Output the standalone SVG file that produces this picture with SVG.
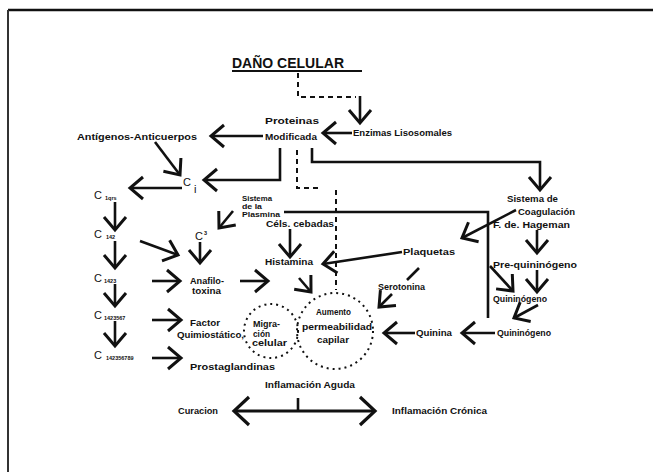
<svg xmlns="http://www.w3.org/2000/svg" width="653" height="472" viewBox="0 0 653 472">
  <style>
    .t { font-family: "Liberation Sans", "DejaVu Sans", sans-serif; font-weight: bold; font-size: 8.5px; fill: #111; }
    .s { font-size: 6.6px; }
    .c { font-family: "Liberation Sans", "DejaVu Sans", sans-serif; font-size: 11px; fill: #111; }
    .sub { font-family: "Liberation Sans", "DejaVu Sans", sans-serif; font-size: 5.5px; font-weight: bold; fill: #111; }
    .ttl { font-family: "Liberation Sans", "DejaVu Sans", sans-serif; font-weight: bold; font-size: 14px; fill: #111; }
    .ln { fill: none; stroke: #111; stroke-width: 2.6; }
    .ar { fill: none; stroke: #111; stroke-width: 2.6; marker-end: url(#chev); }
    .dash { fill: none; stroke: #111; stroke-width: 2; stroke-dasharray: 5 4; }
    .dot { fill: none; stroke: #111; stroke-width: 2; stroke-dasharray: 2 4; }
  </style>
  <defs>
    <marker id="chev" markerUnits="userSpaceOnUse" markerWidth="40" markerHeight="40" refX="0" refY="0" orient="auto" overflow="visible">
      <path d="M-13,-11 L0,0 L-13,11" fill="none" stroke="#111" stroke-width="3"/>
    </marker>
    <marker id="chevL" markerUnits="userSpaceOnUse" markerWidth="40" markerHeight="40" refX="0" refY="0" orient="auto-start-reverse" overflow="visible">
      <path d="M-15,-14 L0,0 L-15,14" fill="none" stroke="#111" stroke-width="3.2"/>
    </marker>
  </defs>

  <rect width="653" height="472" fill="#fff"/>

  <!-- page frame -->
  <g id="frame">
    <path d="M8,10 H653" fill="none" stroke="#111" stroke-width="2.5"/>
    <path d="M8,10 V472" fill="none" stroke="#333" stroke-width="2"/>
  </g>

  <!-- connectors -->
  <g id="connectors">
    <path class="dash" d="M298,73 V97 H356"/>
    <path class="ar" d="M360,96 V123"/>
    <path class="ar" d="M352,133 H323"/>
    <path class="ar" d="M263,136 H211"/>
    <path class="ar" d="M155,142 L180,175"/>
    <path class="ar" d="M280,148 V180 H204"/>
    <path class="ar" d="M182,188 H130"/>
    <path class="dash" d="M297,150 V188 H318"/>
    <path class="dash" d="M336,190 V290"/>
    <path class="ar" d="M312,148 V162 H540 V190"/>
    <path class="ln" d="M284,212 H488 V318"/>
    <path class="ar" d="M490,266 L513,291"/>
    <path class="ar" d="M516,210 L462,238"/>
    <path class="ar" d="M537,230 V253"/>
    <path class="ar" d="M537,270 V292"/>
    <path class="ar" d="M538,305 L514,318"/>
    <path class="ar" d="M495,333 H462"/>
    <path class="ar" d="M415,333 H384"/>
    <path class="ar" d="M402,252 L323,264"/>
    <path class="ln" d="M419,268 L407,280"/>
    <path class="ar" d="M392,294 L379,307"/>
    <path class="ar" d="M290,229 V257"/>
    <path class="ar" d="M299,278 L311,292"/>
    <path class="ar" d="M240,281 H268"/>
    <path class="ar" d="M152,281 H180"/>
    <path class="ar" d="M140,241 L178,255"/>
    <path class="ar" d="M200,242 V263"/>
    <path class="ar" d="M233,211 L219,228"/>
    <path class="ar" d="M115,202 V230"/>
    <path class="ar" d="M115,241 V268"/>
    <path class="ar" d="M115,284 V306"/>
    <path class="ar" d="M115,321 V346"/>
    <path class="ar" d="M152,320 H181"/>
    <path class="ar" d="M152,358 H181"/>
    <path class="ln" d="M298,398 V411"/>
    <path d="M234,411 H375" fill="none" stroke="#111" stroke-width="3.2" marker-start="url(#chevL)" marker-end="url(#chevL)"/>
  </g>

  <g id="dano-celular">
    <text class="ttl" x="232" y="68">DAÑO CELULAR</text>
    <path d="M232,71 H362" fill="none" stroke="#111" stroke-width="2"/>
  </g>
  <g id="proteinas">
    <text class="t" x="265" y="124" textLength="54" lengthAdjust="spacingAndGlyphs">Proteinas</text>
    <text class="t" x="265" y="140" textLength="52" lengthAdjust="spacingAndGlyphs">Modificada</text>
  </g>
  <g id="enzimas"><text class="t" x="353" y="136" textLength="99" lengthAdjust="spacingAndGlyphs">Enzimas Lisosomales</text></g>
  <g id="antigenos"><text class="t" x="77" y="140" textLength="120" lengthAdjust="spacingAndGlyphs">Antígenos-Anticuerpos</text></g>
  <g id="ci">
    <text class="c" x="183" y="186">C</text>
    <text class="c" x="194" y="193" font-size="9">i</text>
  </g>
  <g id="c1"><text class="c" x="94" y="199">C</text><text class="sub" x="105" y="200">1qrs</text></g>
  <g id="c2"><text class="c" x="94" y="238">C</text><text class="sub" x="106" y="239">142</text></g>
  <g id="c3"><text class="c" x="94" y="282">C</text><text class="sub" x="104" y="283">1423</text></g>
  <g id="c4"><text class="c" x="94" y="319">C</text><text class="sub" x="104" y="320">1423567</text></g>
  <g id="c5"><text class="c" x="94" y="359">C</text><text class="sub" x="106" y="360">142356789</text></g>
  <g id="c3b"><text class="c" x="195" y="240">C</text><text class="sub" x="204" y="235">3</text></g>
  <g id="anafilotoxina">
    <text class="t" x="190" y="284" textLength="34" lengthAdjust="spacingAndGlyphs">Anafilo-</text>
    <text class="t" x="192" y="294" textLength="29" lengthAdjust="spacingAndGlyphs">toxina</text>
  </g>
  <g id="factor">
    <text class="t" x="190" y="326" textLength="30" lengthAdjust="spacingAndGlyphs">Factor</text>
    <text class="t" x="177" y="338" textLength="67" lengthAdjust="spacingAndGlyphs">Quimiostático,</text>
  </g>
  <g id="prostaglandinas"><text class="t" x="190" y="370" textLength="85" lengthAdjust="spacingAndGlyphs">Prostaglandinas</text></g>
  <g id="plasmina">
    <text class="t s" x="242" y="201" textLength="30" lengthAdjust="spacingAndGlyphs">Sistema</text>
    <text class="t s" x="242" y="209" textLength="20" lengthAdjust="spacingAndGlyphs">de la</text>
    <text class="t s" x="242" y="217" textLength="38" lengthAdjust="spacingAndGlyphs">Plasmina</text>
  </g>
  <g id="cebadas"><text class="t" x="266" y="227" textLength="68" lengthAdjust="spacingAndGlyphs">Céls. cebadas</text></g>
  <g id="histamina"><text class="t" x="265" y="265" textLength="48" lengthAdjust="spacingAndGlyphs">Histamina</text></g>
  <g id="plaquetas"><text class="t" x="403" y="255" textLength="52" lengthAdjust="spacingAndGlyphs">Plaquetas</text></g>
  <g id="serotonina"><text class="t" x="378" y="290" textLength="47" lengthAdjust="spacingAndGlyphs">Serotonina</text></g>
  <g id="coagulacion">
    <text class="t" x="507" y="202" textLength="51" lengthAdjust="spacingAndGlyphs">Sistema de</text>
    <text class="t" x="518" y="215" textLength="57" lengthAdjust="spacingAndGlyphs">Coagulación</text>
    <text class="t" x="493" y="228" textLength="77" lengthAdjust="spacingAndGlyphs">F. de. Hageman</text>
  </g>
  <g id="prequininogeno"><text class="t" x="493" y="268" textLength="84" lengthAdjust="spacingAndGlyphs">Pre-quininógeno</text></g>
  <g id="quininogeno-1"><text class="t" x="493" y="302" textLength="54" lengthAdjust="spacingAndGlyphs">Quininógeno</text></g>
  <g id="quininogeno-2"><text class="t" x="497" y="336" textLength="54" lengthAdjust="spacingAndGlyphs">Quininógeno</text></g>
  <g id="quinina"><text class="t" x="416" y="336" textLength="36" lengthAdjust="spacingAndGlyphs">Quinina</text></g>
  <g id="migracion">
    <circle class="dot" cx="271" cy="331" r="27"/>
    <text class="t" x="253" y="327" textLength="27" lengthAdjust="spacingAndGlyphs">Migra-</text>
    <text class="t" x="253" y="337" textLength="17" lengthAdjust="spacingAndGlyphs">ción</text>
    <text class="t" x="252" y="346" textLength="35" lengthAdjust="spacingAndGlyphs">celular</text>
  </g>
  <g id="aumento">
    <circle class="dot" cx="335" cy="331" r="38"/>
    <text class="t" x="316" y="315" textLength="35" lengthAdjust="spacingAndGlyphs">Aumento</text>
    <text class="t" x="302" y="330" textLength="70" lengthAdjust="spacingAndGlyphs">permeabilidad</text>
    <text class="t" x="317" y="343" textLength="32" lengthAdjust="spacingAndGlyphs">capilar</text>
  </g>
  <g id="inflamacion-aguda"><text class="t" x="265" y="388" textLength="90" lengthAdjust="spacingAndGlyphs">Inflamación Aguda</text></g>
  <g id="curacion"><text class="t" x="178" y="414" textLength="40" lengthAdjust="spacingAndGlyphs">Curacion</text></g>
  <g id="inflamacion-cronica"><text class="t" x="392" y="414" textLength="95" lengthAdjust="spacingAndGlyphs">Inflamación Crónica</text></g>
</svg>
